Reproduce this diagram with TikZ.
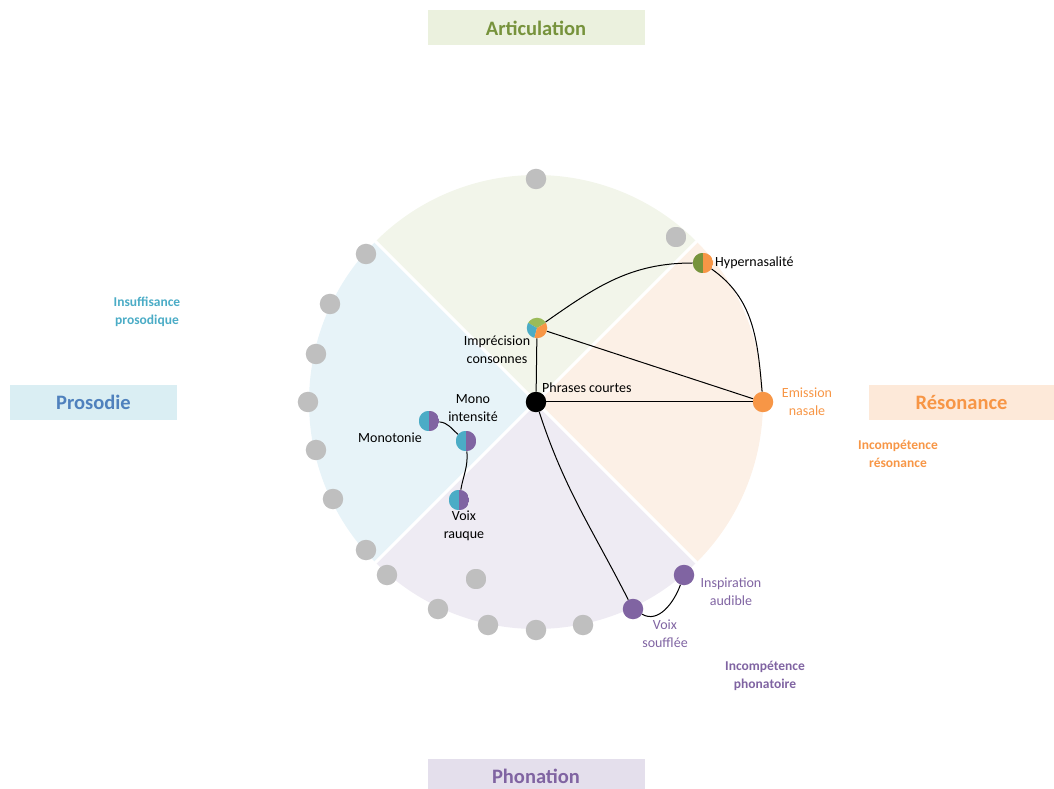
\documentclass[tikz,border=0pt]{standalone}
\usepackage{fontspec}
\setmainfont{Carlito}

\definecolor{cGreen}{HTML}{77933C}
\definecolor{cLGreen}{HTML}{9BBB59}
\definecolor{cOrange}{HTML}{F79646}
\definecolor{cPurple}{HTML}{8064A2}
\definecolor{cBlue}{HTML}{4BACC6}
\definecolor{cDBlue}{HTML}{4F81BD}
\definecolor{cGrey}{HTML}{BFBFBF}
\definecolor{artSec}{HTML}{F2F5EA}
\definecolor{resSec}{HTML}{FCF0E6}
\definecolor{phoSec}{HTML}{EEEBF3}
\definecolor{proSec}{HTML}{E7F3F8}
\definecolor{artBox}{HTML}{EBF1DE}
\definecolor{resBox}{HTML}{FDE9D9}
\definecolor{phoBox}{HTML}{E4DFEC}
\definecolor{proBox}{HTML}{DAEEF3}

\tikzset{
	fulldot/.style={circle,inner sep=0pt,minimum size=20.5pt,fill=#1},
	halfdot/.style 2 args={circle,inner sep=0pt,minimum size=20.5pt,
		path picture={\fill[#1] (path picture bounding box.south west) rectangle (path picture bounding box.north);
			\fill[#2] (path picture bounding box.south) rectangle (path picture bounding box.north east);}},
	splitdot/.style={halfdot={cGrey}{cGrey},
		append after command={[draw=white!55!cGrey,line width=0.7pt] (\tikzlastnode.north) -- (\tikzlastnode.south)}},
	threedot/.style={circle,inner sep=0pt,minimum size=20.5pt,
		path picture={\fill[cLGreen] (path picture bounding box.center) -- ++(30:11pt) arc (30:150:11pt) -- cycle;
			\fill[cBlue] (path picture bounding box.center) -- ++(150:11pt) arc (150:255:11pt) -- cycle;
			\fill[cOrange] (path picture bounding box.center) -- ++(255:11pt) arc (255:390:11pt) -- cycle;}},
	lbl/.style={inner sep=0pt,font=\fontsize{14}{18}\selectfont,align=center},
	sublbl/.style={inner sep=0pt,font=\fontsize{13.5}{18}\selectfont\bfseries,align=center},
	catbox/.style={inner sep=0pt,minimum height=35pt,font=\fontsize{20.5}{24}\selectfont\bfseries},
	link/.style={line width=1pt,black}
}

\begin{document}
\begin{tikzpicture}[x=1pt,y=1pt]
		\useasboundingbox (-536,-387) rectangle (518,402);
		\fill[artSec] (0,0) -- (45:227) arc (45:135:227) -- cycle;
		\fill[resSec] (0,0) -- (-45:227) arc (-45:45:227) -- cycle;
		\fill[phoSec] (0,0) -- (-135:227) arc (-135:-45:227) -- cycle;
		\fill[proSec] (0,0) -- (135:227) arc (135:225:227) -- cycle;
		\foreach \a in {45,135,225,315}
			\draw[white,line width=3pt] (0,0) -- (\a:230);

		\foreach \x/\y [count=\i] in {0/223,-170/148,-206/98,-220/48,-228/0,-220/-48,-203/-97,-170/-148,-149/-173,-98/-207,-48/-223,0/-228,47/-223}
			\node[fulldot=cGrey] (g\i) at (\x,\y) {};
		\node[splitdot] (gs1) at (140,165) {};
		\node[splitdot] (gs2) at (-60,-177) {};

		\node[halfdot={cGreen}{cOrange}] (hyper) at (167,139) {};
		\node[threedot] (impr) at (1,74) {};
		\node[fulldot=black] (phrases) at (0,0) {};
		\node[fulldot=cOrange] (emission) at (227,0) {};
		\node[halfdot={cBlue}{cPurple}] (monotonie) at (-107,-19) {};
		\node[halfdot={cBlue}{cPurple}] (monoint) at (-70,-39) {};
		\node[halfdot={cBlue}{cPurple}] (rauque) at (-77,-98) {};
		\node[fulldot=cPurple] (souffle) at (97,-207) {};
		\node[fulldot=cPurple] (inspir) at (148,-173) {};

		\path[link] (impr) edge (phrases)
		(impr) edge (emission)
		(impr) edge[out=35,in=180] (hyper)
		(hyper) edge[out=-35,in=95] (emission)
		(phrases) edge (emission)
		(phrases) edge[out=-72,in=117] (souffle)
		(souffle) edge[out=-30,in=-110] (inspir)
		(monotonie) edge[out=-5,in=140] (monoint)
		(monoint) edge[out=-85,in=80] (rauque);

		\node[lbl,anchor=west] (hyper-t) at (179,139) {Hypernasalité};
		\node[lbl] (impr-t) at (-39,52) {Imprécision\\consonnes};
		\node[lbl,anchor=west] (phrases-t) at (6,14) {Phrases courtes};
		\node[lbl,text=cOrange] (emission-t) at (271,0) {Emission\\nasale};
		\node[lbl] (monoint-t) at (-63,-6) {Mono\\intensité};
		\node[lbl] (monotonie-t) at (-146,-36) {Monotonie};
		\node[lbl] (rauque-t) at (-72,-124) {Voix\\rauque};
		\node[lbl,text=cPurple] (souffle-t) at (129,-232) {Voix\\soufflée};
		\node[lbl,text=cPurple] (inspir-t) at (195,-190) {Inspiration\\audible};

		\node[catbox,minimum width=217pt,fill=artBox,text=cGreen] (articulation) at (0,374) {Articulation};
		\node[catbox,minimum width=167pt,fill=proBox,text=cDBlue] (prosodie) at (-442.5,-0.5) {Prosodie};
		\node[catbox,minimum width=185pt,fill=resBox,text=cOrange] (resonance) at (425.5,-0.5) {Résonance};
		\node[catbox,minimum width=217pt,fill=phoBox,text=cPurple] (phonation) at (0,-374) {Phonation};

		\node[sublbl,text=cBlue] (insuff) at (-389,90) {Insuffisance\\prosodique};
		\node[sublbl,text=cOrange] (incres) at (362,-52) {Incompétence\\résonance};
		\node[sublbl,text=cPurple] (incpho) at (229,-274) {Incompétence\\phonatoire};
	\end{tikzpicture}
\end{document}
